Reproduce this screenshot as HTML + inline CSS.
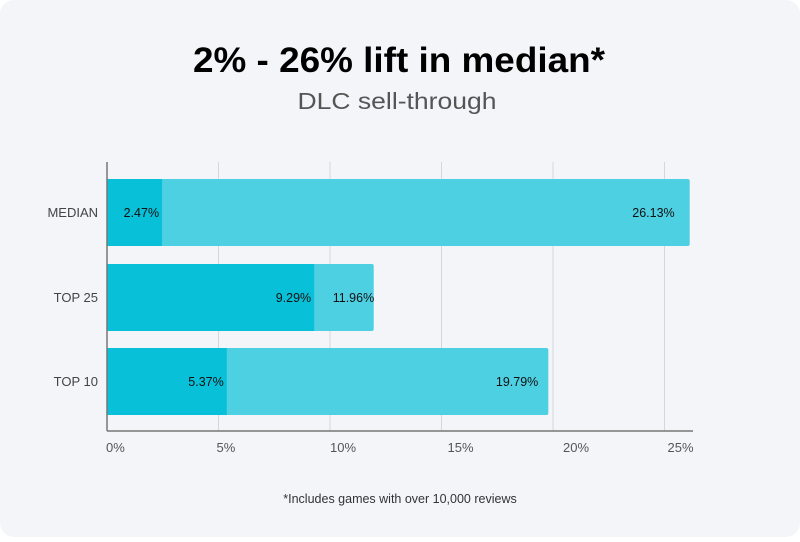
<!DOCTYPE html>
<html><head><meta charset="utf-8"><style>
html,body{margin:0;padding:0;background:#fff;}
body{width:800px;height:537px;overflow:hidden;font-family:"Liberation Sans",sans-serif;}
</style></head><body>
<svg id="chart" width="800" height="537" viewBox="0 0 800 537" xmlns="http://www.w3.org/2000/svg">
<rect x="0" y="0" width="800" height="537" rx="14" fill="#f4f5f9"/>
<text x="399" y="72" text-anchor="middle" font-size="35" font-weight="bold" fill="#000" textLength="412" lengthAdjust="spacingAndGlyphs">2% - 26% lift in median*</text>
<text x="397" y="109" text-anchor="middle" font-size="23" fill="#555" textLength="199" lengthAdjust="spacingAndGlyphs">DLC sell-through</text>
<text x="400" y="503" text-anchor="middle" font-size="12.5" fill="#333">*Includes games with over 10,000 reviews</text>
<g id="plot"></g>
</svg>
<script>
const categories = ["MEDIAN","TOP 25","TOP 10"];
const baseValues = [2.47, 9.29, 5.37];
const liftValues = [26.13, 11.96, 19.79];
const tickValues = [0,5,10,15,20,25];
const tickLabels = ["0%","5%","10%","15%","20%","25%"];

const NS="http://www.w3.org/2000/svg";
const x0=107, pxPer=22.3, plotTop=162, axisY=431;
const rowTop=[179,264,348], barH=67;
const tickShift=[-1,-2,0,6,10,3];
const liftLabelPad=[15,-0.5,10];
function xs(v){return x0+v*pxPer;}
const g=document.getElementById('plot');
function mk(tag,attrs){const e=document.createElementNS(NS,tag);for(const k in attrs)e.setAttribute(k,attrs[k]);g.appendChild(e);return e;}

tickValues.forEach((t,i)=>{
  if(t>0){
    const l=mk('line',{x1:xs(t),x2:xs(t),y1:plotTop,y2:axisY,stroke:'#d4d6dc','stroke-width':1});
    
    
  }
  const tx=mk('text',{x:xs(t)+tickShift[i],y:452,'text-anchor':'start','font-size':13,fill:'#555'});
  tx.textContent=tickLabels[i];
  
  
});

categories.forEach((c,i)=>{
  const y=rowTop[i];
  const lb=mk('rect',{x:x0,y:y,width:xs(liftValues[i])-x0,height:barH,fill:'#4dd0e2',rx:2});
  
  
  const db=mk('rect',{x:x0,y:y,width:xs(baseValues[i])-x0,height:barH,fill:'#08c0d8'});
  
  
  const cy=y+barH/2+4.5;
  const t1=mk('text',{x:xs(baseValues[i])-3,y:cy,'text-anchor':'end','font-size':12.5,fill:'#111'});
  t1.textContent=baseValues[i].toFixed(2)+'%';
  
  
  const t2=mk('text',{x:xs(liftValues[i])-liftLabelPad[i],y:cy,'text-anchor':'end','font-size':12.5,fill:'#111'});
  t2.textContent=liftValues[i].toFixed(2)+'%';
  
  
  const cl=mk('text',{x:98,y:cy,'text-anchor':'end','font-size':13,fill:'#444'});
  cl.textContent=c;
  
  
});
const ax=mk('line',{x1:x0,x2:693,y1:axisY,y2:axisY,stroke:'#777','stroke-width':1.5});


const ay=mk('line',{x1:x0,x2:x0,y1:plotTop,y2:axisY,stroke:'#777','stroke-width':1.5});


</script>
</body></html>
